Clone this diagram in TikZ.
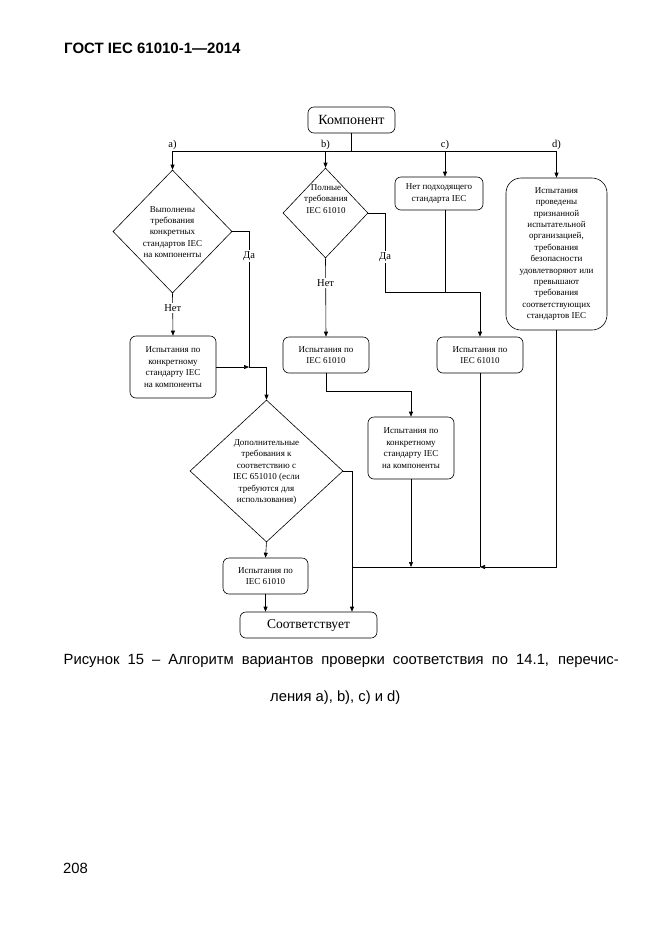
\documentclass[tikz,border=0pt]{standalone}
\usepackage{fontspec}
\setmainfont{Liberation Serif}
\newfontfamily\capfont{Liberation Sans}
\usetikzlibrary{arrows.meta,shapes.geometric,calc}
\begin{document}
\begin{tikzpicture}[x=1pt,y=-1pt,
  line/.style={line width=0.6pt},
  arr/.style={line width=0.6pt,-{Triangle[length=5pt,width=4pt]}},
  box/.style={draw,line width=0.6pt,rounded corners=6pt,inner sep=0pt},
  dia/.style={draw,line width=0.6pt,diamond,inner sep=0pt},
  txt/.style={align=center,font=\fontsize{9}{11.4}\selectfont,inner sep=0pt},
  lbl/.style={font=\fontsize{10.5}{12}\selectfont,inner sep=1.5pt,fill=white},
  caption/.style={font=\capfont\fontsize{14.8}{17}\selectfont,inner sep=0pt},
]
\useasboundingbox (0,0) rectangle (661,935);

% header, caption, page number
\node[caption,anchor=west,font=\capfont\bfseries\fontsize{15}{17}\selectfont] (hdr) at (64,48) {ГОСТ IEC 61010-1—2014};
\node[caption,anchor=west] (cap1) at (63.5,661) {\makebox[555pt][s]{Рисунок 15 – Алгоритм вариантов проверки соответствия по 14.1, перечис-}};
\node[caption,anchor=west] (cap2) at (270,698) {ления a), b), c) и d)};
\node[caption,anchor=west] (page) at (63,868) {208};

% nodes
\node[box,minimum width=87pt,minimum height=26pt] (komp) at (351.5,120) {\fontsize{14}{16}\selectfont Компонент};

\node[dia,minimum width=119pt,minimum height=123pt] (dA) at (172.5,231.5) {};
\node[txt] (tA) at (172.5,232) {Выполнены\\требования\\конкретных\\стандартов IEC\\на компоненты};

\node[dia,minimum width=85pt,minimum height=90pt] (dB) at (325.5,213) {};
\node[txt] (tB) at (326,199) {Полные\\требования\\IEC 61010};

\node[dia,minimum width=153pt,minimum height=142pt] (dC) at (266.5,471) {};
\node[txt] (tC) at (266.5,472) {Дополнительные\\требования к\\соответствию с\\IEC 651010 (если\\требуются для\\использования)};

\node[box,minimum width=86pt,minimum height=62pt,txt,draw] (a1) at (173,367) {Испытания по\\конкретному\\стандарту IEC\\на компоненты};
\node[box,minimum width=86pt,minimum height=36pt,txt,draw] (b1) at (326,355) {Испытания по\\IEC 61010};
\node[box,minimum width=88pt,minimum height=33pt,txt,draw] (c) at (439,193.5) {Нет подходящего\\стандарта IEC};
\node[box,minimum width=101pt,minimum height=152pt,txt,draw,rounded corners=15pt] (d) at (556.5,254) {Испытания\\проведены\\признанной\\испытательной\\организацией,\\требования\\безопасности\\удовлетворяют или\\превышают\\требования\\соответствующих\\стандартов IEC};
\node[box,minimum width=86pt,minimum height=36pt,txt,draw] (c2) at (480,355) {Испытания по\\IEC 61010};
\node[box,minimum width=86pt,minimum height=62pt,txt,draw] (b2) at (411,448) {Испытания по\\конкретному\\стандарту IEC\\на компоненты};
\node[box,minimum width=85pt,minimum height=36pt,txt,draw] (e) at (265.5,576) {Испытания по\\IEC 61010};
\node[box,minimum width=137pt,minimum height=26pt] (s) at (308.5,625) {\fontsize{13.5}{16}\selectfont Соответствует};

% junction coordinates
\coordinate (jk) at (351.5,151);
\coordinate (ja) at (172.5,151);
\coordinate (jb) at (325.5,151);
\coordinate (jc) at (445,151);
\coordinate (jd) at (556.5,151);
\coordinate (ja1) at (249,231.5);
\coordinate (ja2) at (249,367);
\coordinate (jb1) at (385,213);
\coordinate (jb2) at (385,292);
\coordinate (jb3) at (326,391);
\coordinate (jdc) at (352,471);
\coordinate (jbot) at (352,567);

% branch labels
\node[lbl,fill=none,above,inner sep=1pt] (la) at (ja) {a)};
\node[lbl,fill=none,above,inner sep=1pt] (lb) at (jb) {b)};
\node[lbl,fill=none,above,inner sep=1pt] (lc) at (jc) {c)};
\node[lbl,fill=none,above,inner sep=1pt] (ld) at (jd) {d)};

% connectors
\draw[line] (komp.south) -- (jk);
\draw[line] (ja) -- (jd);
\draw[arr] (ja) -- (dA.north);
\draw[arr] (jb) -- (dB.north);
\draw[arr] (jc) -- (jc |- c.north);
\draw[arr] (jd) -- (d.north);

\draw[line] (dA.east) -- (ja1) -- node[lbl,pos=0.18]{Да} (ja2);
\draw[arr] (dA.south) -- node[lbl,pos=0.35]{Нет} (a1.north);
\draw[arr] (a1.east) -- (ja2);
\draw[arr] (ja2) -| (dC.north);

\draw[arr] (dB.south) -- node[lbl,pos=0.32]{Нет} (b1.north);
\draw[arr] (dB.east) -- (jb1) -- node[lbl,pos=0.56]{Да} (jb2) -| (c2.north);
\draw[line] (c.south -| jc) -- (jc |- jb2);

\draw[arr] (b1.south) -- (jb3) -| (b2.north);
\draw[arr] (b2.south) -- (b2.south |- jbot);
\draw[line] (c2.south) -- (c2.south |- jbot);
\draw[arr] (d.south) -- (d.south |- jbot) -- (c2.south |- jbot);
\draw[line] (c2.south |- jbot) -- (jbot);

\draw[arr] (dC.east) -- (jdc) -- (jdc |- s.north);
\draw[arr] (dC.south) -- (e.north);
\draw[arr] (e.south) -- (e.south |- s.north);
\end{tikzpicture}
\end{document}
